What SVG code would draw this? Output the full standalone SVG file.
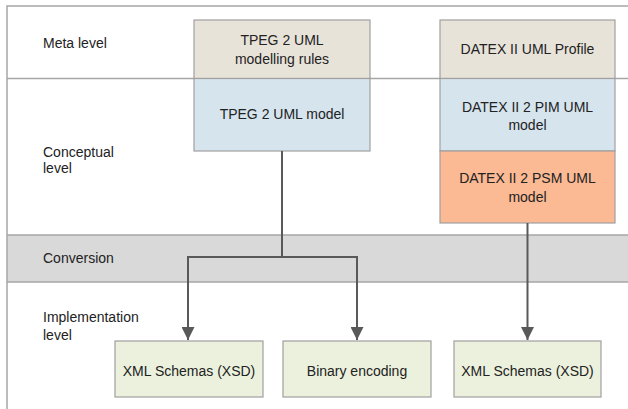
<svg xmlns="http://www.w3.org/2000/svg" width="628" height="409" viewBox="0 0 628 409">
<defs>
<style>
text{font-family:"Liberation Sans",Arial,sans-serif;font-size:14px;fill:#222}
.c{text-anchor:middle}
.frame{stroke:#a6a6a6;stroke-width:1.5;fill:none}
.box{stroke:#a0a0a0;stroke-width:1.2}
.meta{fill:#e8e3d9}
.model{fill:#d6e4ed}
.psm{fill:#fbb994}
.impl{fill:#ebf1dc}
.conn{stroke:#595959;stroke-width:2;fill:none}
</style>
<marker id="arr" viewBox="0 0 10 10" refX="10" refY="5" markerWidth="6.5" markerHeight="6.5" orient="auto" markerUnits="strokeWidth">
<path d="M0,0 L10,5 L0,10 Z" fill="#595959"/>
</marker>
</defs>
<rect width="628" height="409" fill="#fff"/>
<g id="lanes">
<rect x="7" y="235" width="625" height="47" fill="#d9d9d9"/>
<path class="frame" d="M7,409 V6 H630 M7,78.5 H630 M7,235 H630 M7,282 H630"/>
<text x="43" y="48">Meta level</text>
<text x="43" y="157">Conceptual</text>
<text x="43" y="173">level</text>
<text x="43" y="263">Conversion</text>
<text x="43" y="322">Implementation</text>
<text x="43" y="340">level</text>
</g>
<g id="tpeg-rules">
<rect class="box meta" x="194" y="20" width="176" height="58.5"/>
<text class="c" x="282" y="45">TPEG 2 UML</text>
<text class="c" x="282" y="64">modelling rules</text>
</g>
<g id="tpeg-model">
<rect class="box model" x="194" y="78.5" width="176" height="72.5"/>
<text class="c" x="282" y="119">TPEG 2 UML model</text>
</g>
<g id="datex-profile">
<rect class="box meta" x="440" y="20" width="175" height="58.5"/>
<text class="c" x="527.5" y="54">DATEX II UML Profile</text>
</g>
<g id="datex-pim">
<rect class="box model" x="440" y="78.5" width="175" height="72.5"/>
<text class="c" x="527.5" y="112">DATEX II 2 PIM UML</text>
<text class="c" x="527.5" y="130">model</text>
</g>
<g id="datex-psm">
<rect class="box psm" x="440" y="151" width="175" height="72"/>
<text class="c" x="527.5" y="183">DATEX II 2 PSM UML</text>
<text class="c" x="527.5" y="202">model</text>
</g>
<g id="xsd1">
<rect class="box impl" x="115" y="341" width="148" height="56"/>
<text class="c" x="189" y="376">XML Schemas (XSD)</text>
</g>
<g id="binary">
<rect class="box impl" x="283" y="341" width="148" height="56"/>
<text class="c" x="357" y="376">Binary encoding</text>
</g>
<g id="xsd2">
<rect class="box impl" x="454" y="341" width="147" height="56"/>
<text class="c" x="527.5" y="376">XML Schemas (XSD)</text>
</g>
<g id="connectors">
<path class="conn" d="M282,151 V257"/>
<path class="conn" d="M282,257 H188 V340" marker-end="url(#arr)"/>
<path class="conn" d="M282,257 H357 V340" marker-end="url(#arr)"/>
<path class="conn" d="M527.5,223 V340" marker-end="url(#arr)"/>
</g>
</svg>
